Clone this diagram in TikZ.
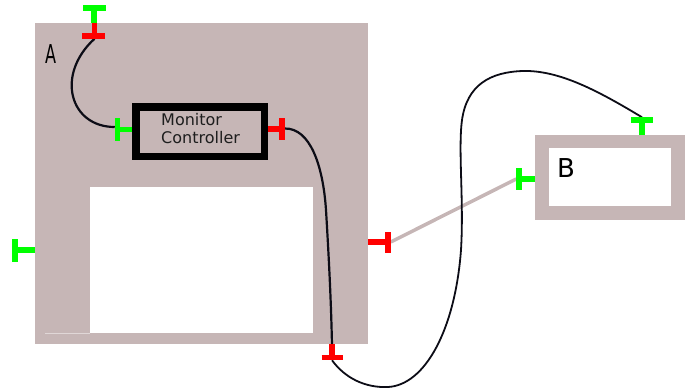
\documentclass[tikz,border=0pt]{standalone}
\usepackage{fontspec}
\setmainfont{DejaVu Sans}
\definecolor{boxc}{RGB}{198,182,182}
\definecolor{pgreen}{RGB}{0,255,0}
\definecolor{pred}{RGB}{255,0,0}
\definecolor{wire}{RGB}{12,12,22}
\definecolor{textc}{RGB}{30,30,30}
\begin{document}
\begin{tikzpicture}[x=1pt,y=-1pt,
  port/.style={line width=5.5pt},
  gport/.style={port, draw=pgreen},
  rport/.style={port, draw=pred},
  wirec/.style={draw=wire, line width=2.2pt},
  thinwire/.style={draw=wire, line width=1.8pt},
  biglabel/.style={inner sep=0pt, anchor=base west, text=black, font=\fontsize{26}{26}\selectfont},
  mctext/.style={inner sep=0pt, anchor=base west, text=textc, font=\fontsize{16}{16}\selectfont}]
\path[use as bounding box] (0,0) rectangle (696,391);
% Box A
\fill[boxc] (35,23) rectangle (368,344);
\fill[white] (90,187) rectangle (313,333);
\draw[line width=1pt, draw=boxc!55!white] (45,333) -- (90,333);
\node[biglabel] (labA) at (45,63) {\scalebox{0.62}[1]{A}};
% Box B
\fill[boxc] (535,135) rectangle (685,220);
\fill[white] (549,148) rectangle (671,206);
\node[biglabel] (labB) at (557,177) {B};
% Monitor Controller
\node[draw=black, line width=7.5pt, minimum width=128.5pt, minimum height=49.5pt, inner sep=0pt, outer sep=0pt, anchor=north west] (MC) at (135.75,106.75) {};
\node[mctext] (mc1) at (161,125.5) {Monitor};
\node[mctext] (mc2) at (161,143) {Controller};
% connector end points
\coordinate (pAin) at (94.5,38.75);
\coordinate (pMCin) at (114.75,127);
\coordinate (pMCout) at (284.75,128.5);
\coordinate (pAbotTop) at (332,345);
\coordinate (pAbotBot) at (332,360.25);
\coordinate (pAright) at (390.75,242);
\coordinate (pBleft) at (516.25,179);
\coordinate (pBtop) at (642,117.25);
% wires
\draw[boxc, line width=3.5pt] (pAright) -- (pBleft);
\draw[wirec] (pAin) .. controls (55,75) and (70,127) .. (pMCin);
\draw[wirec] (pMCout) .. controls (310,128) and (323,165) .. (326,210) .. controls (329,260) and (331,300) .. (pAbotTop);
\draw[thinwire] (pAbotBot) .. controls (345,378) and (365,388) .. (388,387) .. controls (425,385) and (455,330) .. (461,250) .. controls (464,200) and (458,150) .. (462,120) .. controls (467,85) and (490,72) .. (523,71) .. controls (560,70) and (600,92) .. (pBtop);
% ports
\draw[gport] (94,23) -- (94,8) (83,8) -- (106,8);
\draw[rport] (94.5,23) -- (94.5,36) (82,36) -- (105,36);
\draw[gport] (132,129.3) -- (117.5,129.3) (117.5,118) -- (117.5,141);
\draw[rport] (268,129) -- (282,129) (282,118) -- (282,140);
\draw[gport] (35,250) -- (15,250) (15,239) -- (15,262);
\draw[rport] (368,242) -- (388,242) (388,232) -- (388,253);
\draw[rport] (332,344) -- (332,357.5) (321.5,357.5) -- (343,357.5);
\draw[gport] (535,179) -- (519,179) (519,168) -- (519,190);
\draw[gport] (642,135) -- (642,120) (631,120) -- (653,120);
\end{tikzpicture}
\end{document}
